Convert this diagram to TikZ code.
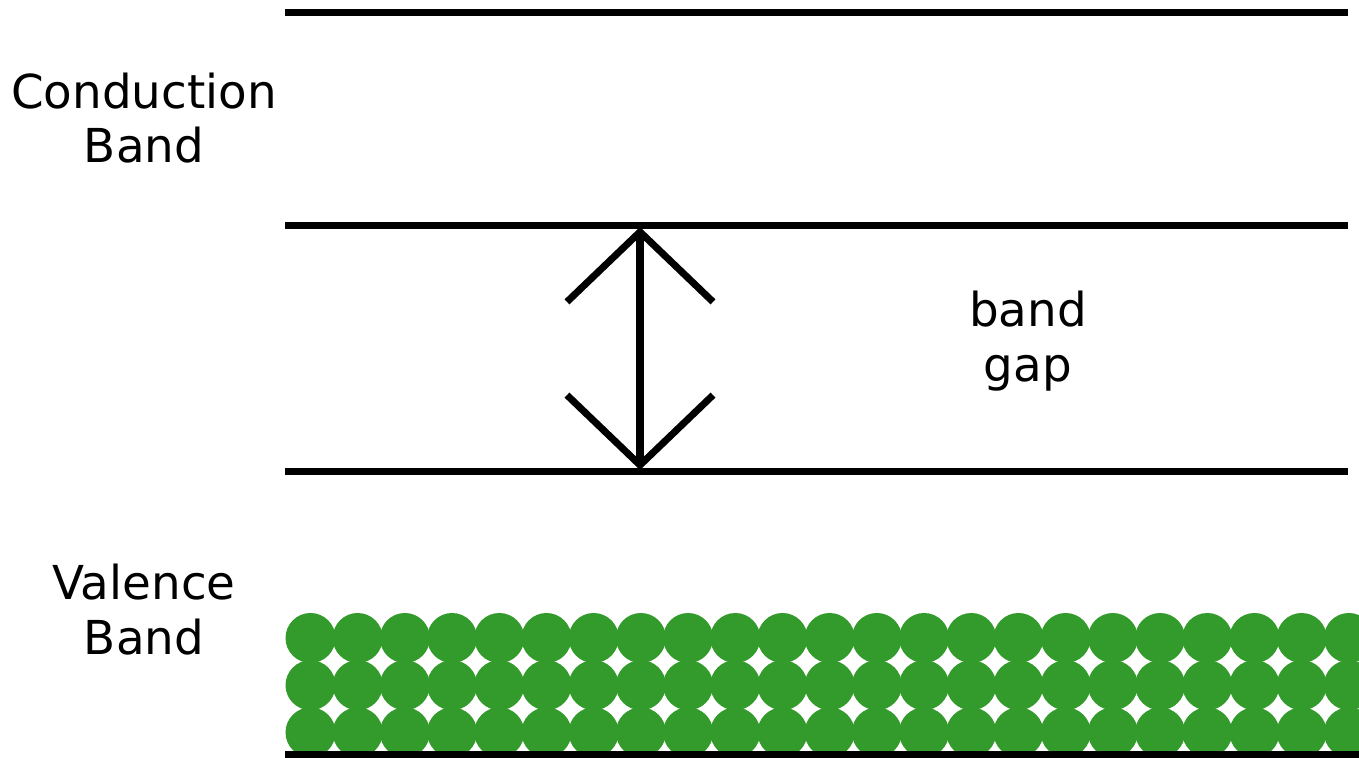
\documentclass[tikz,border=0pt]{standalone}
\usepackage{fontspec}
\setmainfont{DejaVu Sans}
\usetikzlibrary{arrows.meta}
\definecolor{bandgreen}{RGB}{51,155,43}
\begin{document}
\begin{tikzpicture}[x=0.01cm,y=-0.01cm,
  level/.style={line width=0.07cm,black},
  gaparrow/.style={line width=0.07cm,black,
    {Straight Barb[length=0.70cm,width=1.46cm,line width=0.07cm]}-{Straight Barb[length=0.70cm,width=1.46cm,line width=0.07cm]}},
  label/.style={font=\fontsize{13.3}{15.6}\selectfont,align=center,inner sep=0pt}]
\useasboundingbox (0,0) rectangle (1359,758);

% energy levels
\coordinate (cbtopL) at (285,12.5);
\coordinate (cbtopR) at (1348,12.5);
\coordinate (cbbotL) at (285,225.5);
\coordinate (cbbotR) at (1348,225.5);
\coordinate (vbtopL) at (285,471.5);
\coordinate (vbtopR) at (1348,471.5);
\draw[level] (cbtopL) -- (cbtopR);
\draw[level] (cbbotL) -- (cbbotR);
\draw[level] (vbtopL) -- (vbtopR);

% filled valence band: packed electrons
\begin{scope}
  \clip (285,600) rectangle (1359,751.5);
  \foreach \i in {0,...,23}
    \foreach \j in {0,...,3}
      \fill[bandgreen] (310.5+47.2*\i,638+47.2*\j) circle (25);
\end{scope}
\coordinate (vbbotL) at (285,755);
\coordinate (vbbotR) at (1362,755);
\draw[level] (vbbotL) -- (vbbotR);

% band gap arrow
\coordinate (gapTop) at (640,227);
\coordinate (gapBot) at (640,470);
\draw[gaparrow] (gapBot) -- (gapTop);

% labels
\node[label] (cblabel) at (144,118) {Conduction\\Band};
\node[label] (gaplabel) at (1028,341) {band\\gap};
\node[label] (vblabel) at (144,610) {Valence\\Band};
\end{tikzpicture}
\end{document}
